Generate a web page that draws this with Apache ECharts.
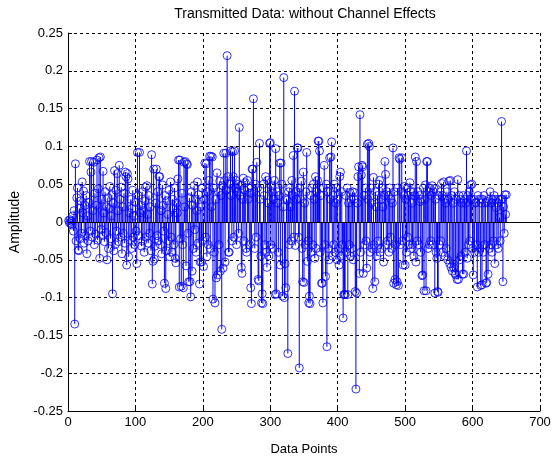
<!DOCTYPE html>
<html>
<head>
<meta charset="utf-8">
<script src="https://cdn.jsdelivr.net/npm/echarts@6/dist/echarts.min.js"></script>
<style>html,body{margin:0;padding:0;background:#fff;}#c{width:557px;height:461px;}</style>
</head>
<body>
<div id="c"></div>
<script>
const titleText = 'Transmitted Data: without Channel Effects';
const xLabel = 'Data Points';
const yLabel = 'Amplitude';
const xTicks = [0, 100, 200, 300, 400, 500, 600, 700];
const yTicks = [-0.25, -0.2, -0.15, -0.1, -0.05, 0, 0.05, 0.1, 0.15, 0.2, 0.25];
// amplitude of each transmitted sample, sample index = position + 1
const amplitude = [
0.002,-0.001,0.003,-0.002,0.001,-0.004,0.008,-0.012,0.015,-0.135,
0.077,-0.025,0.032,0.045,-0.037,-0.038,0.018,-0.022,0.028,-0.015,
0.053,0.012,0.041,-0.028,0.022,-0.018,0.035,-0.042,0.008,-0.025,
0.026,0.080,-0.012,0.066,0.080,-0.020,0.015,0.079,-0.030,0.038,
-0.016,0.022,0.082,-0.024,0.044,0.085,-0.048,0.086,-0.010,0.030,
-0.018,0.067,0.012,-0.026,0.040,-0.014,0.020,-0.050,0.032,-0.035,
0.018,0.047,-0.022,0.008,0.036,-0.095,0.025,-0.038,0.068,-0.030,
0.042,-0.012,0.064,0.015,-0.026,0.075,0.030,-0.020,0.046,-0.042,
0.020,-0.015,0.038,-0.028,0.066,0.060,-0.057,0.064,0.057,-0.046,
0.012,-0.024,0.030,-0.035,0.018,0.042,-0.020,0.008,-0.030,0.026,
-0.012,-0.055,0.092,0.035,-0.018,0.092,0.012,0.022,-0.032,0.040,
-0.025,0.015,-0.040,0.028,0.046,-0.020,0.048,0.010,-0.028,0.035,
-0.015,0.020,-0.038,0.089,-0.082,-0.052,0.070,-0.049,-0.032,0.025,
0.070,-0.018,0.040,-0.025,0.060,0.060,-0.030,0.015,-0.042,0.049,
0.022,-0.012,-0.081,0.035,-0.088,-0.038,0.028,0.010,-0.025,0.042,
-0.046,0.053,-0.020,-0.040,0.030,0.018,-0.030,0.045,-0.048,-0.054,
0.025,0.012,0.057,0.082,-0.086,0.082,-0.022,-0.085,0.038,-0.030,
-0.087,0.079,0.020,0.080,-0.058,0.077,0.076,-0.015,-0.079,0.032,
-0.079,-0.099,0.040,-0.065,0.022,-0.035,0.048,-0.010,0.030,-0.040,
0.015,0.053,-0.028,0.036,-0.082,-0.053,0.020,-0.053,0.045,-0.025,
-0.059,0.030,0.078,-0.020,0.077,-0.046,0.040,-0.030,0.055,0.087,
-0.035,0.087,0.020,0.086,-0.102,0.045,-0.040,-0.107,0.030,-0.074,
0.065,-0.070,0.040,-0.030,0.054,-0.065,0.035,-0.142,0.048,-0.061,
0.091,0.055,-0.053,0.091,0.042,0.220,0.060,-0.040,-0.040,0.050,
0.094,0.035,-0.025,0.093,0.060,-0.020,0.094,0.045,0.055,-0.030,
0.040,0.050,-0.015,0.125,0.035,0.048,-0.060,-0.068,0.030,0.058,
-0.025,0.042,0.052,-0.035,-0.040,0.055,0.030,0.045,-0.030,0.038,
-0.087,-0.108,0.070,0.070,0.163,0.040,-0.035,0.050,-0.020,0.079,
0.045,-0.076,-0.078,0.104,0.030,-0.045,-0.107,-0.095,-0.108,0.050,
0.035,-0.030,0.060,-0.040,-0.060,0.055,0.025,-0.045,0.104,0.105,
-0.030,0.048,0.040,-0.035,0.030,0.055,-0.096,0.097,-0.095,0.040,
0.025,-0.040,0.035,0.078,-0.057,0.078,0.050,-0.098,0.020,0.191,
-0.100,-0.055,-0.087,0.031,0.029,-0.174,0.040,-0.030,0.045,0.020,
-0.025,0.055,0.035,0.088,-0.020,0.173,-0.031,0.040,0.030,0.098,
0.098,-0.020,-0.193,0.045,0.030,0.054,-0.035,-0.079,0.066,-0.080,
0.025,-0.030,0.040,0.092,-0.052,-0.025,-0.107,-0.098,-0.108,0.035,
-0.040,0.045,-0.030,0.050,0.030,-0.048,0.060,-0.035,0.040,0.055,
0.107,0.107,0.094,-0.040,0.035,-0.081,-0.081,-0.107,0.045,0.075,
-0.030,-0.072,0.050,-0.165,0.040,-0.035,-0.050,0.085,0.030,0.086,
0.106,-0.045,0.035,-0.030,0.050,-0.040,0.025,0.045,-0.050,0.030,
-0.035,-0.057,0.060,0.066,-0.045,0.040,-0.030,-0.127,-0.096,-0.096,
-0.096,0.035,-0.040,0.045,-0.096,0.025,-0.030,0.039,-0.045,0.030,
-0.035,0.040,-0.050,0.030,0.039,-0.092,-0.221,-0.094,0.025,0.060,
0.073,-0.068,0.142,-0.040,0.062,0.075,0.073,-0.068,0.035,-0.030,
0.045,-0.025,-0.061,0.103,0.030,0.104,0.100,-0.040,0.045,0.025,
-0.035,-0.088,0.059,-0.030,-0.079,0.040,0.020,-0.045,0.035,-0.025,
0.050,0.055,-0.040,0.030,-0.035,0.045,0.020,-0.053,0.035,0.080,
0.063,-0.030,0.040,-0.025,0.035,-0.040,0.045,-0.020,0.030,-0.035,
0.025,0.098,-0.081,0.040,-0.076,-0.030,-0.083,-0.079,0.045,-0.084,
0.085,0.083,-0.030,0.040,0.085,-0.025,-0.057,0.035,0.047,-0.057,
0.030,-0.040,0.045,-0.020,0.035,-0.030,0.052,0.040,-0.035,0.025,
-0.030,0.040,-0.045,0.035,0.086,-0.053,0.080,-0.025,0.040,-0.030,
0.035,0.027,-0.040,0.030,-0.071,-0.070,0.045,-0.091,0.030,0.049,
-0.091,0.080,0.080,-0.035,0.040,-0.030,0.045,-0.025,0.035,0.048,
-0.030,0.040,0.044,-0.094,0.030,-0.040,-0.048,-0.092,-0.093,0.035,
-0.030,0.040,-0.025,0.051,0.035,-0.040,0.053,0.030,-0.045,0.025,
-0.035,0.040,-0.050,0.030,0.054,-0.055,0.055,-0.060,0.035,-0.065,
0.025,-0.060,0.040,-0.068,-0.070,0.030,-0.076,0.056,-0.076,0.035,
-0.050,0.030,-0.045,0.025,-0.069,0.035,-0.069,0.030,-0.040,0.025,
0.094,-0.048,0.035,-0.030,0.040,-0.025,0.049,0.030,0.050,-0.035,
-0.070,0.030,-0.040,0.025,0.026,-0.030,-0.086,0.035,-0.040,0.030,
-0.035,-0.084,0.025,-0.083,0.030,-0.040,0.035,-0.030,0.025,-0.081,
-0.080,0.027,-0.069,0.030,-0.035,0.040,-0.030,0.025,-0.040,0.030,
-0.025,0.035,-0.055,0.030,0.019,-0.030,0.025,-0.035,0.030,0.006,
-0.025,0.030,0.133,0.030,-0.079,0.020,-0.015,0.036,0.010,0.036
];

const points = amplitude.map((v, i) => [i + 1, v]);
const fmt = v => String(parseFloat(Number(v).toFixed(2)));
const FONT = 'Liberation Sans, Arial, sans-serif';
const stemColor = '#0000ff';

const chart = echarts.init(document.getElementById('c'), null, {renderer: 'canvas'});
chart.setOption({
  backgroundColor: '#ffffff',
  animation: false,
  title: {
    text: titleText, left: 300, top: 2, textAlign: 'center',
    textStyle: {fontFamily: FONT, fontSize: 14, fontWeight: 'normal', color: '#000'}
  },
  grid: {left: 68, right: 17, top: 33, bottom: 42, containLabel: false},
  xAxis: {
    type: 'value', min: xTicks[0], max: xTicks[xTicks.length - 1], interval: 100,
    name: xLabel, nameLocation: 'middle', nameGap: 32,
    nameTextStyle: {fontFamily: FONT, fontSize: 13, color: '#000'},
    axisLine: {onZero: false, lineStyle: {color: '#000', width: 1}},
    axisTick: {show: true, inside: true, length: 4, lineStyle: {color: '#000'}},
    axisLabel: {fontFamily: FONT, fontSize: 13, color: '#000', margin: 5, formatter: fmt},
    splitLine: {show: true, lineStyle: {color: '#000', type: [3, 3], width: 1}}
  },
  yAxis: {
    type: 'value', min: yTicks[0], max: yTicks[yTicks.length - 1], interval: 0.05,
    name: yLabel, nameLocation: 'middle', nameGap: 42, nameRotate: 90,
    nameTextStyle: {fontFamily: FONT, fontSize: 14, color: '#000'},
    axisLine: {onZero: false, lineStyle: {color: '#000', width: 1}},
    axisTick: {show: true, inside: true, length: 4, lineStyle: {color: '#000'}},
    axisLabel: {fontFamily: FONT, fontSize: 13, color: '#000', margin: 5, formatter: fmt},
    splitLine: {show: true, lineStyle: {color: '#000', type: [3, 3], width: 1}}
  },
  series: [
    {
      type: 'custom',
      silent: true,
      data: points,
      renderItem: function (params, api) {
        const x = api.value(0), y = api.value(1);
        const p0 = api.coord([x, 0]);
        const p1 = api.coord([x, y]);
        return {
          type: 'line',
          shape: {x1: p0[0], y1: p0[1], x2: p1[0], y2: p1[1]},
          style: {stroke: stemColor, lineWidth: 1}
        };
      },
      z: 2
    },
    {
      type: 'scatter',
      silent: true,
      data: points,
      symbol: 'circle',
      symbolSize: 8,
      itemStyle: {color: 'rgba(0,0,0,0)', borderColor: stemColor, borderWidth: 1},
      markLine: {
        silent: true, symbol: ['none', 'none'], label: {show: false},
        lineStyle: {color: '#000', type: 'solid', width: 1},
        data: [{yAxis: 0}]
      },
      z: 3
    }
  ]
});
</script>
</body>
</html>
